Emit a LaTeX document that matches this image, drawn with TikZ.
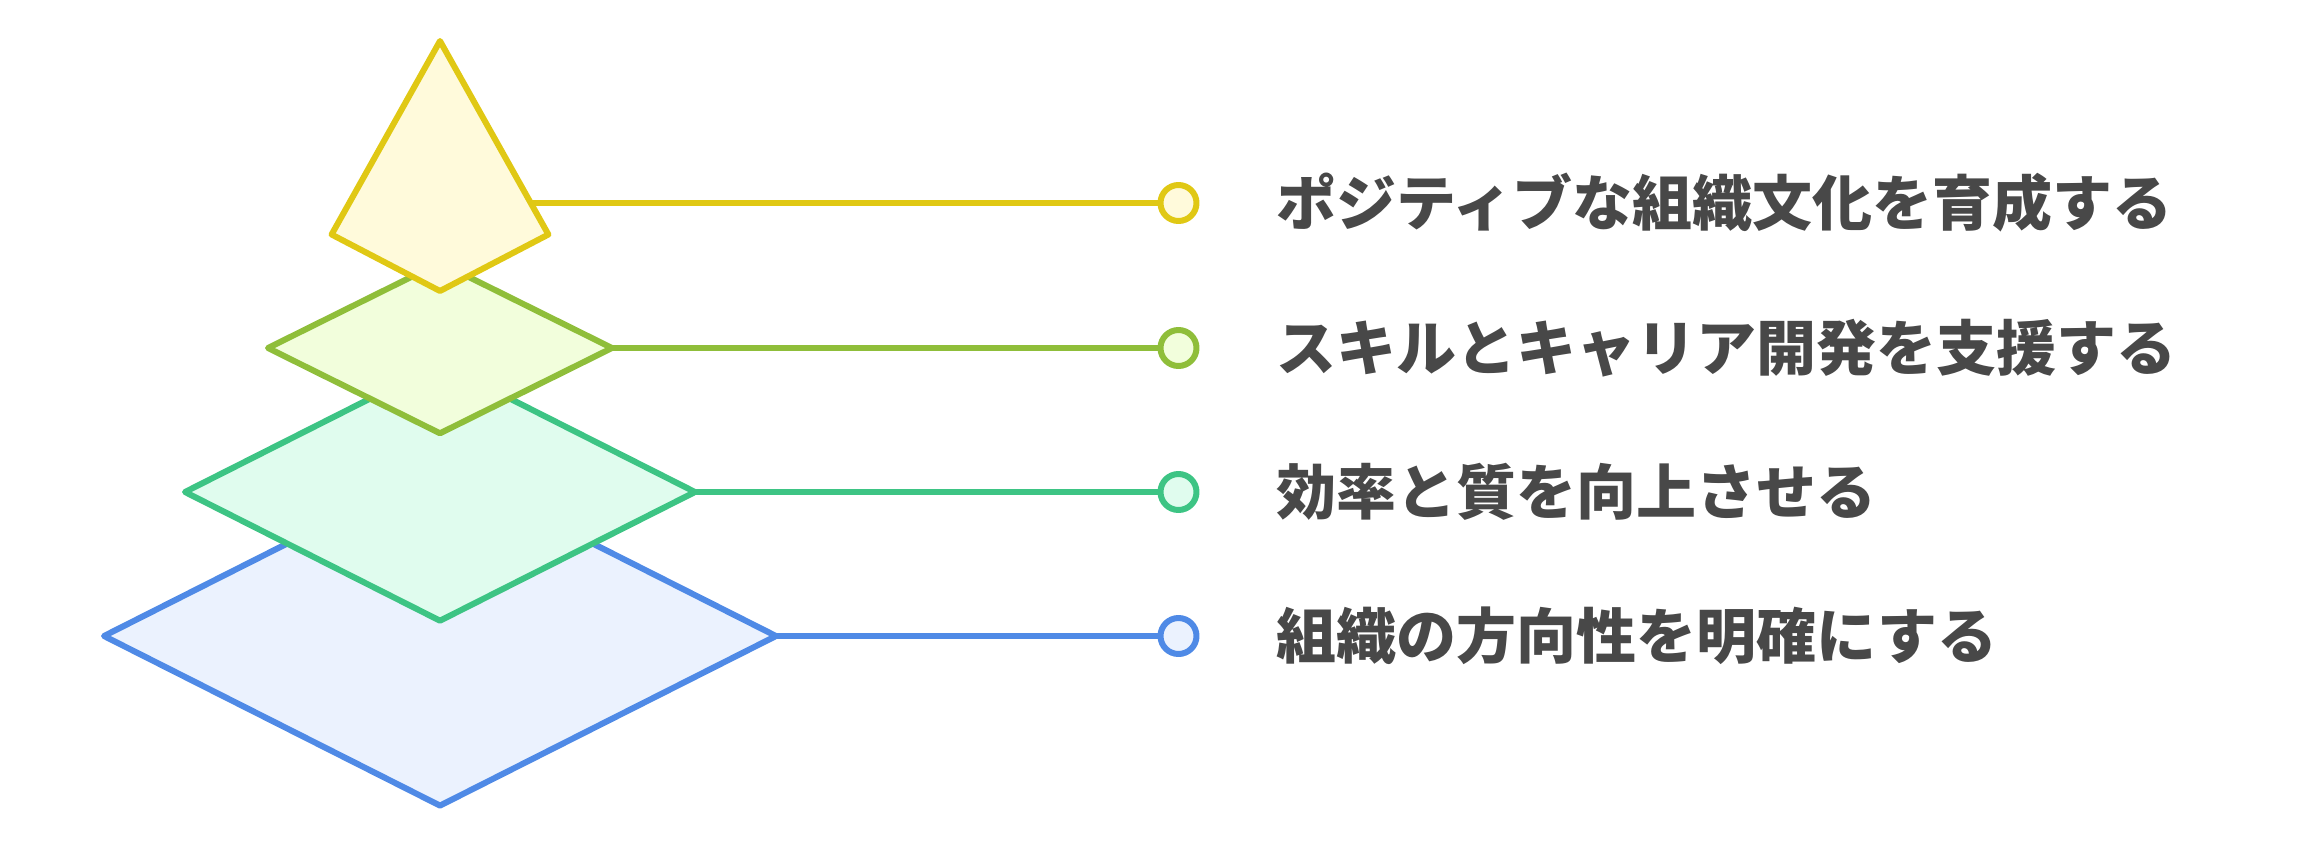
\documentclass[tikz,border=0pt]{standalone}
\usepackage{fontspec}
\newfontfamily\jpfont{Noto Sans CJK JP}
\usepackage{tikz}
\usetikzlibrary{positioning}
\definecolor{topline}{HTML}{E0C814}
\definecolor{topfill}{HTML}{FFFADB}
\definecolor{limeline}{HTML}{8FBE3A}
\definecolor{limefill}{HTML}{F2FEDC}
\definecolor{mintline}{HTML}{3DC484}
\definecolor{mintfill}{HTML}{E0FCEE}
\definecolor{baseblue}{HTML}{4F8AE6}
\definecolor{basefill}{HTML}{EBF2FE}
\definecolor{textgray}{HTML}{484848}

\begin{document}
\begin{tikzpicture}[x=0.5pt, y=-0.5pt, line width=3pt, line join=round,
	dot/.style={circle, draw, line width=3pt, minimum size=18pt, inner sep=0pt},
	goaltext/.style={anchor=west, inner sep=0pt, text=textgray, font=\jpfont\bfseries\fontsize{30}{35}\selectfont}]
				\useasboundingbox (0,0) rectangle (2319,863);
				\pgfmathsetmacro{\midx}{440}
				\pgfmathsetmacro{\dotx}{1178.5}
				
				\node[dot, draw=topline, fill=topfill] (dottop) at (\dotx,203) {};
				\node[dot, draw=limeline, fill=limefill] (dotlime) at (\dotx,348) {};
				\node[dot, draw=mintline, fill=mintfill] (dotmint) at (\dotx,492) {};
				\node[dot, draw=baseblue, fill=basefill] (dotbase) at (\dotx,636) {};
				
				\node[goaltext, right=37pt of dottop] (txttop) {ポジティブな組織文化を育成する};
				\node[goaltext, right=37pt of dotlime] (txtlime) {スキルとキャリア開発を支援する};
				\node[goaltext, right=37pt of dotmint] (txtmint) {効率と質を向上させる};
				\node[goaltext, right=37pt of dotbase] (txtbase) {組織の方向性を明確にする};
				
				\coordinate (tiptop) at (\midx,203);
				\coordinate (tiplime) at (\midx,348);
				\coordinate (tipmint) at (\midx,492);
				\coordinate (tipbase) at (\midx,636);
				\draw[topline] (tiptop) -- (dottop);
				\draw[limeline] (tiplime) -- (dotlime);
				\draw[mintline] (tipmint) -- (dotmint);
				\draw[baseblue] (tipbase) -- (dotbase);
				
				\draw[baseblue, fill=basefill] (\midx-336,636) -- ++(336,169.6) -- ++(336,-169.6) -- ++(-336,-169.6) -- cycle;
				\draw[mintline, fill=mintfill] (\midx-255,492) -- ++(255,128.7) -- ++(255,-128.7) -- ++(-255,-128.7) -- cycle;
				\draw[limeline, fill=limefill] (\midx-172,348) -- ++(172,85.3) -- ++(172,-85.3) -- ++(-172,-85.3) -- cycle;
				\draw[topline, fill=topfill] (\midx,41) -- (\midx+108.4,234.5) -- (\midx,291) -- (\midx-108.4,234.5) -- cycle;
\end{tikzpicture}
\end{document}
